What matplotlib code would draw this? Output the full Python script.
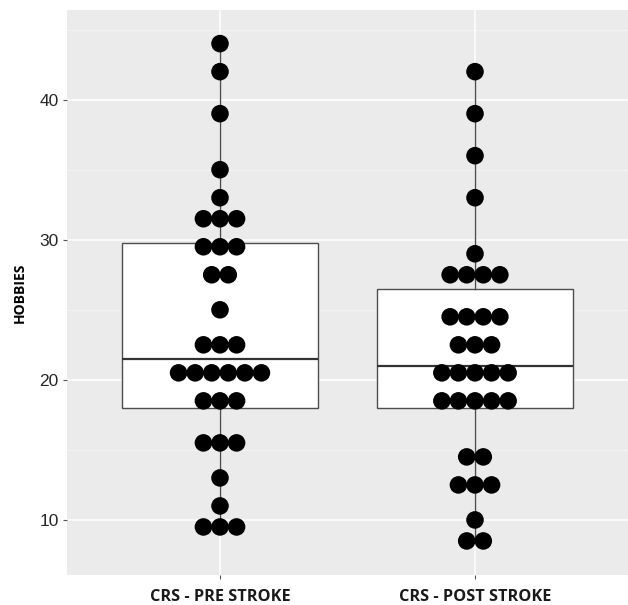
import matplotlib
matplotlib.use("Agg")
import matplotlib.pyplot as plt
import numpy as np

# data (dotplot bin centres)
categories = ["CRS - PRE STROKE", "CRS - POST STROKE"]
pre_values = [44, 42, 39, 35, 33,
              31.5, 31.5, 31.5, 29.5, 29.5, 29.5, 27.5, 27.5, 25,
              22.5, 22.5, 22.5, 20.5, 20.5, 20.5, 20.5, 20.5, 20.5,
              18.5, 18.5, 18.5, 15.5, 15.5, 15.5, 13, 11, 9.5, 9.5, 9.5]
post_values = [42, 39, 36, 33, 29,
               27.5, 27.5, 27.5, 27.5, 24.5, 24.5, 24.5, 24.5,
               22.5, 22.5, 22.5, 20.5, 20.5, 20.5, 20.5, 20.5,
               18.5, 18.5, 18.5, 18.5, 18.5, 14.5, 14.5,
               12.5, 12.5, 12.5, 10, 8.5, 8.5]

# box statistics as drawn
q1 = [18.0, 18.0]
medians = [21.5, 21.0]
q3 = [29.75, 26.45]
whisk_lo = [9.5, 8.5]
whisk_hi = [44.0, 42.0]

y_ticks = [10, 20, 30, 40]

fig = plt.figure(figsize=(6.28, 6.05), dpi=100)
ax = fig.add_axes([67 / 628, 1 - 575 / 605, 1 - 67 / 628, 565 / 605])
ax.set_facecolor("#ebebeb")

# grid like ggplot theme_grey
for v in [15, 25, 35, 45]:
    ax.axhline(v, color="#f4f4f4", lw=0.6, zorder=0)
for v in y_ticks:
    ax.axhline(v, color="white", lw=1.1, zorder=0)
for x in [1, 2]:
    ax.axvline(x, color="white", lw=1.1, zorder=0)

stats = []
for i in range(len(categories)):
    stats.append(dict(med=medians[i], q1=q1[i], q3=q3[i],
                      whislo=whisk_lo[i], whishi=whisk_hi[i], fliers=[]))
ax.bxp(stats, positions=[1, 2], widths=0.765, showfliers=False,
       showcaps=False, patch_artist=True,
       boxprops=dict(facecolor="white", edgecolor="#4d4d4d", lw=1.0),
       whiskerprops=dict(color="#4d4d4d", lw=1.0),
       medianprops=dict(color="#333333", lw=1.6), zorder=2)

# stacked dots, centred on each category
spacing = 0.065
for pos, vals in zip([1, 2], [pre_values, post_values]):
    vals = np.array(vals)
    for v in np.unique(vals):
        n = np.sum(vals == v)
        xs = pos + (np.arange(n) - (n - 1) / 2) * spacing
        ax.scatter(xs, [v] * n, s=160, color="black", edgecolor="none",
                   zorder=3)

ax.set_xlim(0.4, 2.6)
ax.set_ylim(6.07, 46.4)
ax.set_xticks([1, 2])
ax.set_xticklabels(categories, fontsize=11.7, fontweight="bold",
                   family="Open Sans", color="#1a1a1a")
ax.set_yticks(y_ticks)
ax.set_yticklabels([str(t) for t in y_ticks], fontsize=12.5,
                   family="Liberation Sans", color="#262626")
ax.tick_params(length=3, color="#555555", width=0.8, pad=3)
ax.tick_params(axis="x", pad=7)
for s in ax.spines.values():
    s.set_visible(False)
ax.set_ylabel("HOBBIES", fontsize=10, fontweight="bold",
              family="Open Sans", labelpad=9)

fig.savefig("out.png", dpi=100)
